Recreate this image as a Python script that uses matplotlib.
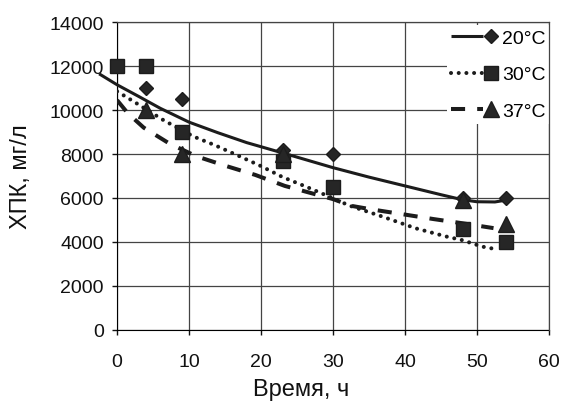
import matplotlib
matplotlib.use("Agg")
import matplotlib.pyplot as plt
from matplotlib.legend_handler import HandlerBase
from matplotlib.lines import Line2D

plt.rcParams['font.family'] = ['Liberation Sans', 'DejaVu Sans']

# measured points (time, h / COD, mg/l)
t20 = [4, 9, 23, 30, 48, 54]
cod20 = [11000, 10500, 8200, 8000, 6000, 6000]
t30 = [0, 4, 9, 23, 30, 48, 54]
cod30 = [12000, 12000, 9000, 7700, 6500, 4600, 4000]
t37 = [4, 9, 23, 48, 54]
cod37 = [10000, 8000, 8000, 5900, 4800]

# trend curves
fit_t20 = [-2.5, 0, 3, 6, 10, 14, 18, 23, 30, 35, 40, 45, 48, 50, 52.5, 54]
fit20 = [11650, 11150, 10620, 10080, 9450, 8970, 8520, 8050, 7380, 6950,
         6550, 6150, 5920, 5830, 5820, 5900]
fit_t30 = [0, 2.3, 6.5, 10.6, 13.6, 17, 20, 23, 26.3, 29.5, 32.3, 36.9,
           41.5, 45.7, 48, 50.7, 53]
fit30 = [10850, 10390, 9530, 8800, 8400, 7900, 7450, 6950, 6510, 6060,
         5650, 5150, 4620, 4250, 4080, 3790, 3650]
fit_t37 = [0, 1.5, 3.7, 7.3, 11, 15.2, 19.2, 23.3, 30, 32.6, 35.2, 39.9,
           44, 48, 52.3]
fit37 = [10450, 9850, 9200, 8470, 7900, 7450, 7050, 6550, 5950, 5640,
         5490, 5250, 5040, 4850, 4630]

labels = ['20°C', '30°C', '37°C']
ink = '#1c1c1c'


class LineThenMarker(HandlerBase):
    # legend entry: line sample first, marker at its right end
    def create_artists(self, legend, orig_handle, xdescent, ydescent,
                       width, height, fontsize, trans):
        line, marker = orig_handle
        y = height / 2 - ydescent
        x0 = -xdescent
        ln = Line2D([x0, x0 + width * 0.68], [y, y])
        ln.update_from(line)
        ln.set_transform(trans)
        mk = Line2D([x0 + width * 0.85], [y])
        mk.update_from(marker)
        mk.set_transform(trans)
        return [ln, mk]


fig = plt.figure(figsize=(5.63, 4.06), dpi=100)
ax = fig.add_axes([0.208, 0.185, 0.767, 0.758])

l20, = ax.plot(fit_t20, fit20, color=ink, lw=2.2, solid_capstyle='butt',
               clip_on=False, zorder=3)
l30, = ax.plot(fit_t30, fit30, color=ink, lw=2.9, linestyle=(0, (0.01, 1.9)),
               dash_capstyle='round', zorder=3)
l37, = ax.plot(fit_t37, fit37, color=ink, lw=2.9, linestyle=(0, (3.5, 3.0)),
               dash_capstyle='butt', zorder=3)

m20, = ax.plot(t20, cod20, linestyle='none', marker='D', markersize=7.6,
               color='#262626', markeredgecolor=ink, zorder=4, clip_on=False)
m30, = ax.plot(t30, cod30, linestyle='none', marker='s', markersize=10.5,
               color='#262626', markeredgecolor=ink, zorder=4, clip_on=False)
m37, = ax.plot(t37, cod37, linestyle='none', marker='^', markersize=11,
               color='#262626', markeredgecolor=ink, zorder=4, clip_on=False)

ax.set_xlim(0, 60)
ax.set_ylim(0, 14000)
ax.set_xticks(range(0, 61, 10))
ax.set_yticks(range(0, 14001, 2000))
ax.grid(True, color='#444444', lw=0.9)
ax.set_axisbelow(True)
ax.tick_params(direction='out', length=3.6, width=1, labelsize=14,
               colors='#111111')
ax.tick_params(axis='x', pad=13)
ax.tick_params(axis='y', pad=6)
for s in ['top', 'right']:
    ax.spines[s].set_color('#444444')
    ax.spines[s].set_linewidth(0.9)
ax.spines['right'].set_zorder(6)

ax.set_xlabel('Время, ч', fontsize=17, color='#111111')
ax.xaxis.set_label_coords(0.426, -0.155)
ax.set_ylabel('ХПК, мг/л', fontsize=17, color='#111111')
ax.yaxis.set_label_coords(-0.197, 0.5)

leg = ax.legend([(l20, m20), (l30, m30), (l37, m37)], labels,
                handler_map={tuple: LineThenMarker()},
                loc='upper left', bbox_to_anchor=(0.765, 0.99),
                fontsize=14, frameon=True, fancybox=False, framealpha=1,
                facecolor='white', edgecolor='none', borderpad=0.2,
                borderaxespad=0, handlelength=2.4, handletextpad=0.2,
                labelspacing=0.98)

fig.savefig('out.png', dpi=100, facecolor='white')
